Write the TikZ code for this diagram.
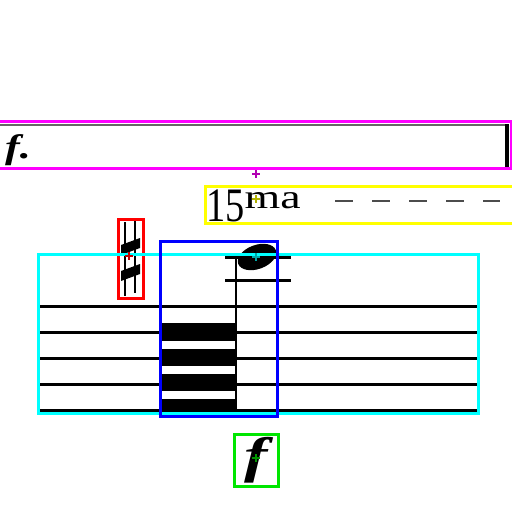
\documentclass[tikz,border=0pt]{standalone}
\usepackage{fontspec}
\setmainfont{Liberation Serif}
\definecolor{boxmagenta}{RGB}{255,0,255}
\definecolor{boxyellow}{RGB}{255,255,0}
\definecolor{boxred}{RGB}{255,0,0}
\definecolor{boxcyan}{RGB}{0,255,255}
\definecolor{boxblue}{RGB}{0,0,255}
\definecolor{boxgreen}{RGB}{0,230,0}
\begin{document}
\begin{tikzpicture}[x=1pt,y=-1pt]
            \tikzset{line/.style={line width=3pt}};
            \tikzset{box/.style={line width=3pt}};
            \tikzset{cross/.style={line width=2pt}};
            
            \useasboundingbox (0,0) rectangle (512,512);
            
            \draw[line width=1.5pt, black!60] (-5,125) -- (507,125);
            \draw[line width=4pt] (507,124) -- (507,167);
            \node[anchor=base west, inner sep=0] (fdot) at (5,158) {\scalebox{1.3}[1]{\fontsize{34}{34}\selectfont\bfseries\itshape f.}};
            
            \node[anchor=base west, inner sep=0] (ottava) at (206,221) {\scalebox{0.8}[1]{\fontsize{48}{48}\selectfont 15}\raisebox{13pt}{\scalebox{1.35}[1]{\fontsize{34}{34}\selectfont ma}}};
            \draw[line width=2pt, black!70, dash pattern=on 18pt off 19pt] (335,201) -- (500,201);
            
            \foreach \y in {306,332,358,384,410}
                \draw[line] (40,\y) -- (478,\y);
            \foreach \a/\b in {323/341,349/366,374/391,399/412}
                \fill (162,\a) rectangle (236,\b);
            \draw[line width=2pt] (236,258) -- (236,410);
            \draw[line] (225,257) -- (291,257);
            \draw[line] (225,280) -- (291,280);
            \fill (257,257) ellipse [x radius=20pt, y radius=12pt, rotate=20];
            
            \draw[line width=2.5pt] (125,222) -- (125,296);
            \draw[line width=2.5pt] (135,219) -- (135,293);
            \fill (121,245) -- (140,238) -- (140,248) -- (121,255) -- cycle;
            \fill (121,271) -- (140,264) -- (140,274) -- (121,281) -- cycle;
            
            \node[anchor=base, inner sep=0] (forte) at (256,472) {\scalebox{1.4}[1]{\fontsize{50}{50}\selectfont\bfseries\itshape f}};
            
            \draw[box, boxmagenta] (-3,121) rectangle (511,168);
            \draw[box, boxyellow] (205,186) rectangle (515,223);
            \draw[box, boxred] (118,219) rectangle (143,298);
            \draw[box, boxcyan] (38,254) rectangle (478,413);
            \draw[box, boxblue] (160,241) rectangle (277,416);
            \draw[box, boxgreen] (234,434) rectangle (278,486);
            
            \foreach \c/\x/\y in {boxmagenta!70!black/256/174, boxyellow!70!black/256/199, boxred!75!black/129/256, boxcyan!65!black/256/257, boxgreen!65!black/256/458}
            {
                \draw[cross, \c] (\x-4,\y) -- (\x+4,\y);
                \draw[cross, \c] (\x,\y-4) -- (\x,\y+4);
            }
        \end{tikzpicture}
\end{document}
